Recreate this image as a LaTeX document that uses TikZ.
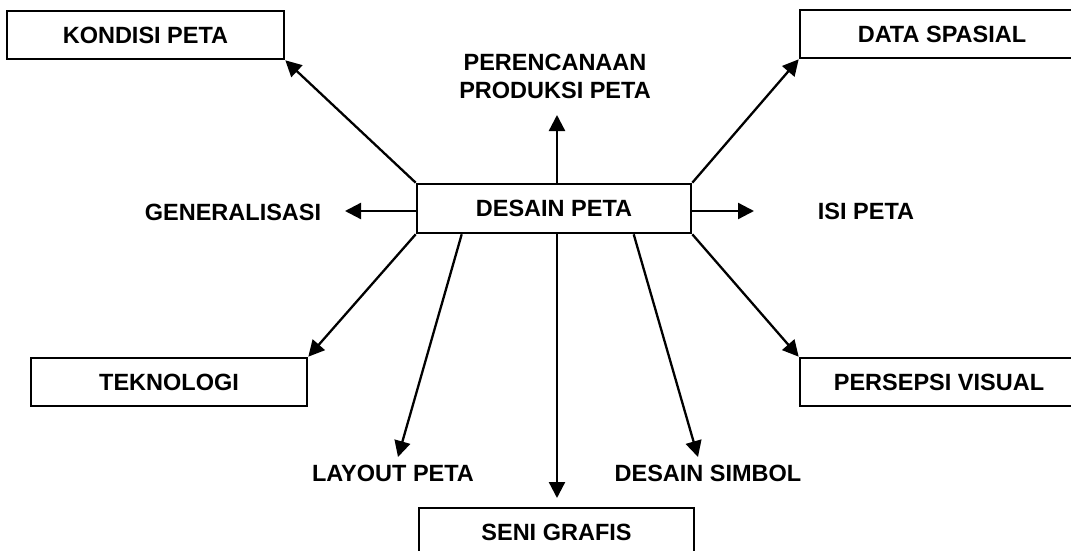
\documentclass[tikz,border=0pt]{standalone}
\usepackage{fontspec}
\setmainfont{Liberation Sans}
\usetikzlibrary{arrows.meta}
\begin{document}
\begin{tikzpicture}[x=1pt,y=-1pt,
  box/.style={draw,line width=2.6pt,minimum height=48pt,inner sep=0pt,font=\fontsize{23.5}{27}\selectfont\bfseries},
  lbl/.style={inner sep=0pt,font=\fontsize{23.5}{27}\selectfont\bfseries,align=center},
  arr/.style={line width=2.3pt,-{Triangle[length=16pt,width=16pt]}}]
\useasboundingbox (0,0) rectangle (1071,551);
\fill[white] (0,0) rectangle (1071,551);
\node[box,minimum width=277pt] (kondisi) at (145.5,35) {KONDISI PETA};
\node[box,minimum width=284pt] (data) at (942,34) {DATA SPASIAL};
\node[box,minimum width=274pt,minimum height=49pt] (desain) at (554,208.5) {DESAIN PETA};
\node[box,minimum width=276pt] (tekno) at (169,382) {TEKNOLOGI};
\node[box,minimum width=278pt] (persepsi) at (939,382) {PERSEPSI VISUAL};
\node[box,minimum width=275pt] (seni) at (556.5,532) {SENI GRAFIS};
\node[lbl] (rencana) at (555,76) {PERENCANAAN\\[1pt]PRODUKSI PETA};
\node[lbl] (gen) at (233,212) {GENERALISASI};
\node[lbl] (isi) at (866,211) {ISI PETA};
\node[lbl] (layout) at (393,473) {LAYOUT PETA};
\node[lbl] (simbol) at (708,473) {DESAIN SIMBOL};
\coordinate (upEnd) at (557,115);
\coordinate (leftEnd) at (345,211);
\coordinate (rightEnd) at (754,211);
\coordinate (layEnd) at (398,457);
\coordinate (seniEnd) at (557,498);
\coordinate (simEnd) at (698,457);
\draw[arr] (desain.north west) -- (kondisi.south east);
\draw[arr] (desain.north east) -- (data.south west);
\draw[arr] (desain.north -| upEnd) -- (upEnd);
\draw[arr] (desain.west |- leftEnd) -- (leftEnd);
\draw[arr] (desain.east |- rightEnd) -- (rightEnd);
\draw[arr] (desain.south west) -- (tekno.north east);
\draw[arr] ([xshift=46pt]desain.south west) -- (layEnd);
\draw[arr] (desain.south -| seniEnd) -- (seniEnd);
\draw[arr] ([xshift=218pt]desain.south west) -- (simEnd);
\draw[arr] (desain.south east) -- (persepsi.north west);
\end{tikzpicture}
\end{document}
